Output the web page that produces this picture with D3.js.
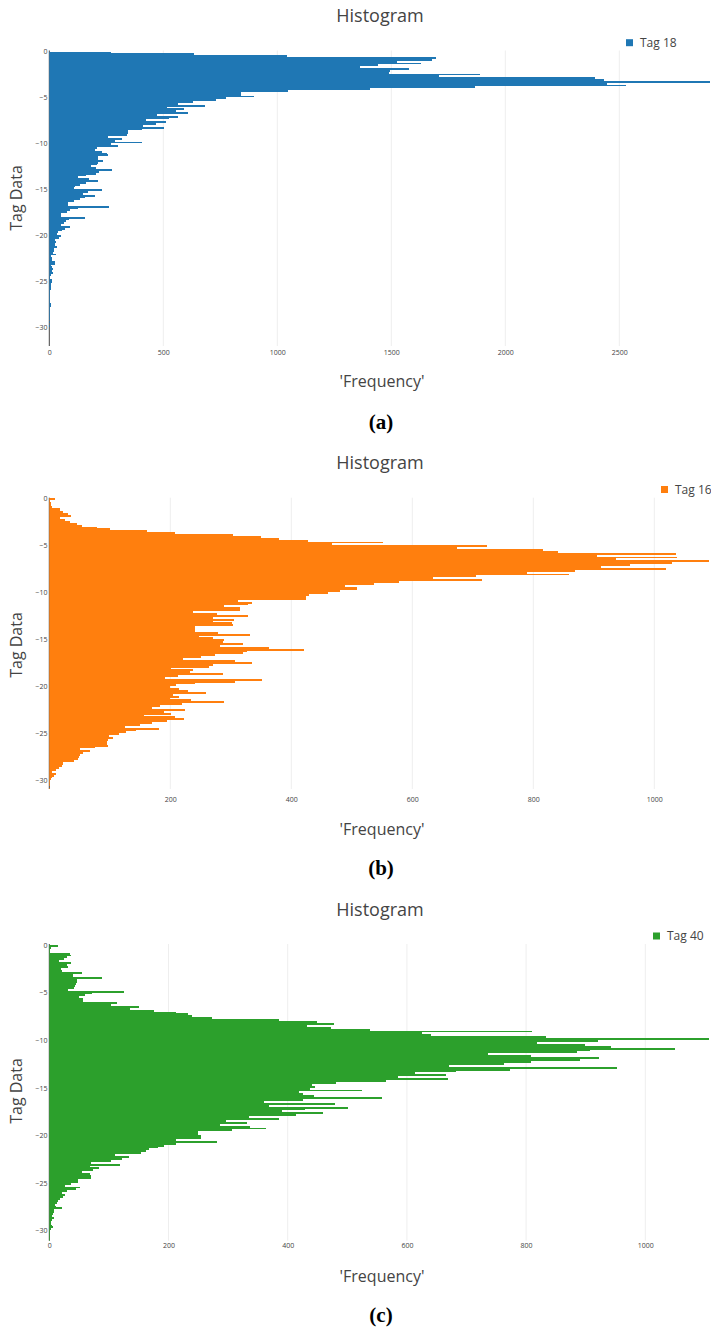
<!DOCTYPE html>
<html>
<head>
<meta charset="utf-8" />
<script src="https://cdn.jsdelivr.net/npm/d3@7"></script>
<style>
body { margin: 0; background: #fff; }
svg text { font-family: "Open Sans", sans-serif; fill: #444; }
</style>
</head>
<body>
<svg id="chart" width="711" height="1332"></svg>
<script>
// histogram bins are 0.2 wide, counted from 0 downwards
var binSize = 0.2;

var tag18 = [271,635,1043,1696,1678,1525,1630,1440,1361,1578,1494,1490,1889,1709,2393,2433,2898,2446,2529,1867,
  1407,1045,839,839,898,775,731,630,564,683,516,591,556,608,472,564,525,424,512,470,
  411,503,407,345,345,341,257,319,288,407,271,301,209,201,230,253,257,215,215,236,
  215,209,183,204,275,216,204,160,126,175,215,161,135,113,108,231,170,148,201,157,
  135,110,82,82,262,126,91,78,51,51,157,86,75,64,51,91,69,56,38,34,
  51,43,25,29,25,27,34,21,21,16,29,8,12,12,25,25,8,10,16,12,
  16,8,4,5,12,12,8,8,7,6,4,2,2,3,2,1,1,8,8,2,
  1,1,2,1,1,1,0,1,0,1,0];

var tag16 = [10,1,2,2,4,18,18,23,31,36,18,26,34,45,54,79,100,161,208,304,
  350,380,428,551,467,723,674,816,841,1036,905,1037,937,1090,1029,960,912,1019,869,790,
  859,705,634,715,578,537,489,509,508,480,461,429,424,424,312,335,328,289,315,315,
  237,277,329,270,305,271,302,303,241,241,241,279,332,247,271,289,287,320,282,363,
  421,327,320,274,250,221,307,335,271,264,201,237,233,287,213,191,352,307,241,209,
  199,215,229,259,205,215,200,235,289,219,183,170,224,190,201,157,208,223,195,170,
  150,125,182,144,127,115,99,105,97,96,96,97,76,51,67,55,51,49,47,41,
  23,23,21,16,11,4,11,8,4,2,1,1,1,0,1];

var tag40 = [15,3,1,1,35,36,30,24,17,36,30,31,20,21,55,40,40,88,46,46,
  45,43,41,31,125,72,60,50,57,57,114,103,150,135,176,213,233,240,273,385,
  449,478,432,472,538,810,625,640,833,1107,920,818,899,942,1050,907,885,736,808,922,
  890,808,763,671,952,773,682,613,666,585,669,565,481,440,446,437,525,419,426,444,
  558,426,360,479,369,501,429,390,459,414,335,385,296,332,286,337,364,306,249,249,
  254,254,212,281,212,192,182,167,162,154,110,134,122,104,70,119,68,83,74,55,
  68,70,70,48,48,36,27,51,44,30,21,27,23,18,15,13,10,11,21,8,
  8,6,5,8,5,3,3,5,7,3,2,2,2,1,2,1];

var xTicksA = [0, 500, 1000, 1500, 2000, 2500];
var xTicksB = [200, 400, 600, 800, 1000];
var xTicksC = [0, 200, 400, 600, 800, 1000];
var yTicks = [0, -5, -10, -15, -20, -25, -30];

// layout of the three stacked plots
var panels = [
  {key: 'a', counts: tag18, name: 'Tag 18', color: '#1f77b4', xTicks: xTicksA,
   xMax: 3000, xRange: [49.3, 733.3], yDomain: [0.11, -32.07], yRange: [50.5, 346],
   tickY: 352.7, titleY: 16, legendX: 626, legendY: 42.7, xTitleY: 381, letterY: 422, yTitleY: 198},
  {key: 'b', counts: tag16, name: 'Tag 16', color: '#ff7f0e', xTicks: xTicksB,
   xMax: 1200, xRange: [49.3, 775.3], yDomain: [0.064, -30.92], yRange: [497.7, 789],
   tickY: 799.3, titleY: 463, legendX: 661, legendY: 489.5, xTitleY: 829, letterY: 868, yTitleY: 645},
  {key: 'c', counts: tag40, name: 'Tag 40', color: '#2ca02c', xTicks: xTicksC,
   xMax: 1200, xRange: [49.3, 764.5], yDomain: [0.105, -31.1], yRange: [944, 1240.7],
   tickY: 1245.3, titleY: 909.5, legendX: 653, legendY: 936, xTitleY: 1276, letterY: 1315, yTitleY: 1091}
];

var svg = d3.select('#chart');
var defs = svg.append('defs');

function drawPanel(p) {
  var x = d3.scaleLinear().domain([0, p.xMax]).range(p.xRange);
  var y = d3.scaleLinear().domain(p.yDomain).range(p.yRange);
  var g = svg.append('g').attr('class', 'panel-' + p.key);

  defs.append('clipPath').attr('id', 'clip-' + p.key)
    .append('rect')
    .attr('x', p.xRange[0]).attr('y', p.yRange[0])
    .attr('width', 711 - p.xRange[0]).attr('height', p.yRange[1] - p.yRange[0]);

  // vertical grid
  g.selectAll('line.grid')
    .data(p.xTicks.filter(function(t) { return t > 0; }))
    .join('line')
    .attr('class', 'grid')
    .attr('x1', function(d) { return x(d); })
    .attr('x2', function(d) { return x(d); })
    .attr('y1', p.yRange[0]).attr('y2', p.yRange[1])
    .attr('stroke', '#eee').attr('stroke-width', 1);

  // zero line
  g.append('line')
    .attr('x1', x(0)).attr('x2', x(0))
    .attr('y1', p.yRange[0]).attr('y2', p.yRange[1])
    .attr('stroke', '#444').attr('stroke-width', 1);

  g.append('g').attr('clip-path', 'url(#clip-' + p.key + ')')
    .selectAll('rect')
    .data(p.counts)
    .join('rect')
    .attr('x', x(0))
    .attr('y', function(d, i) { return y(-i * binSize); })
    .attr('height', function(d, i) { return y(-(i + 1) * binSize) - y(-i * binSize); })
    .attr('width', function(d) { return x(d) - x(0); })
    .attr('fill', p.color)
    .attr('shape-rendering', 'crispEdges');

  // axes
  var xa = g.append('g')
    .attr('transform', 'translate(0,' + p.tickY + ')')
    .call(d3.axisBottom(x).tickValues(p.xTicks).tickSize(0).tickPadding(0).tickFormat(d3.format('d')));
  xa.select('.domain').remove();
  xa.attr('font-family', null).attr('font-size', null).attr('color', '#444');
  xa.selectAll('text').attr('y', 0).attr('dy', '0.35em').style('font-size', '7px').style('fill', '#444');

  var ya = g.append('g')
    .attr('transform', 'translate(47.5,0)')
    .call(d3.axisLeft(y).tickValues(yTicks).tickSize(0).tickPadding(0).tickFormat(d3.format('d')));
  ya.select('.domain').remove();
  ya.attr('font-family', null).attr('font-size', null).attr('color', '#444');
  ya.selectAll('text').attr('dy', '0.35em').style('font-size', '7px').style('fill', '#444');

  // titles
  g.append('text')
    .attr('x', 380).attr('y', p.titleY).attr('dy', '0.35em')
    .attr('text-anchor', 'middle').style('font-size', '18px')
    .text('Histogram');

  g.append('text')
    .attr('x', 382).attr('y', p.xTitleY).attr('dy', '0.35em')
    .attr('text-anchor', 'middle').style('font-size', '16px')
    .text("'Frequency'");

  g.append('text')
    .attr('transform', 'translate(16,' + p.yTitleY + ') rotate(-90)')
    .attr('dy', '0.35em')
    .attr('text-anchor', 'middle').style('font-size', '16px')
    .text('Tag Data');

  // legend
  g.append('rect')
    .attr('x', p.legendX).attr('y', p.legendY - 3.5)
    .attr('width', 7).attr('height', 7)
    .attr('fill', p.color);
  g.append('text')
    .attr('x', p.legendX + 14).attr('y', p.legendY).attr('dy', '0.35em')
    .style('font-size', '12px')
    .text(p.name);

  // sub-figure letter
  g.append('text')
    .attr('x', 381).attr('y', p.letterY).attr('dy', '0.35em')
    .attr('text-anchor', 'middle')
    .style('font-family', '"Liberation Serif", serif')
    .style('font-weight', 'bold').style('font-size', '21px')
    .style('fill', '#000')
    .text('(' + p.key + ')');
}

panels.forEach(drawPanel);
</script>
</body>
</html>
